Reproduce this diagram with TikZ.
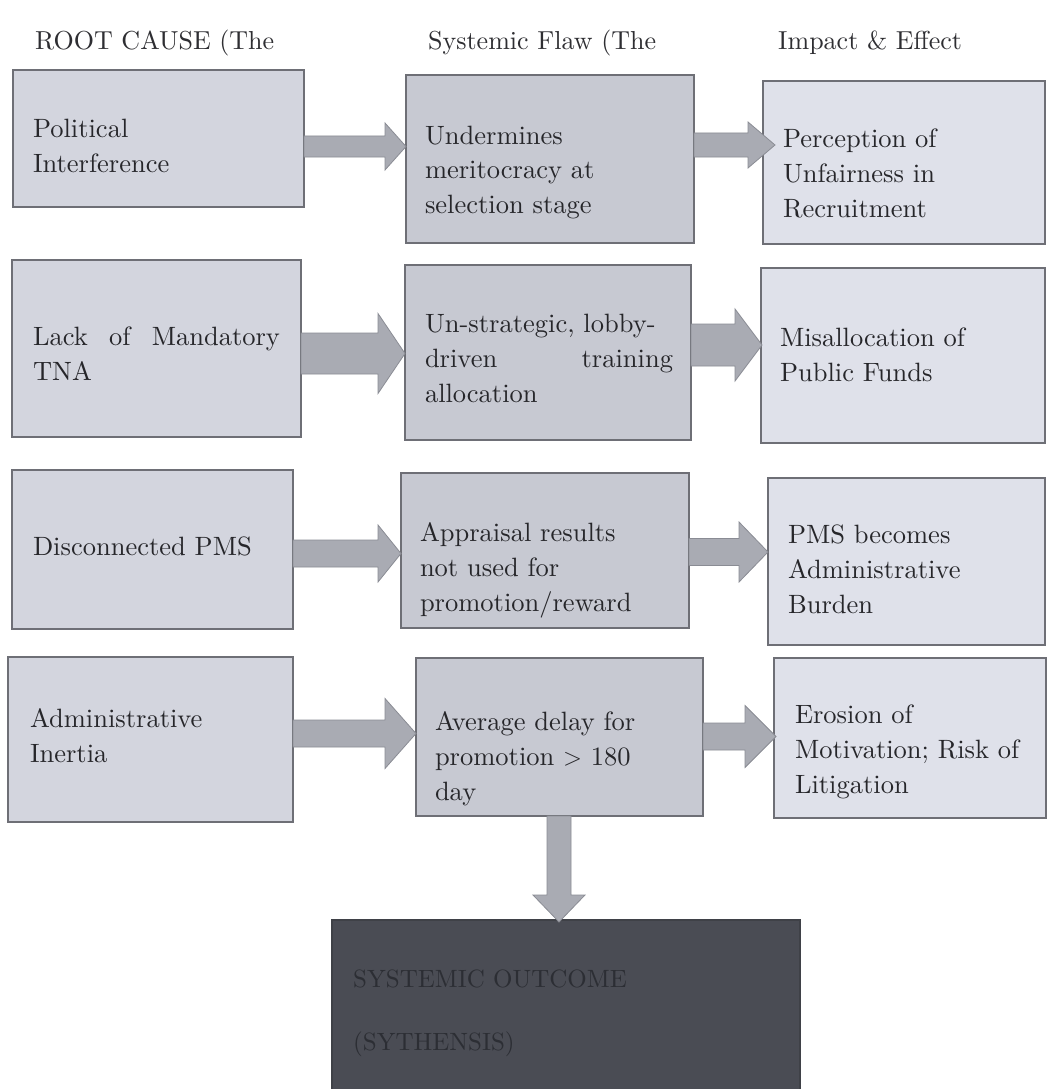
\documentclass[tikz,border=0pt]{standalone}
\usepackage{fontspec}
\setmainfont{lmroman10}[Extension=.otf, UprightFont=*-regular, BoldFont=*-bold, ItalicFont=*-italic]
\usetikzlibrary{calc}
\definecolor{ink}{HTML}{26262A}
\definecolor{headink}{HTML}{2E2E32}
\definecolor{boxline}{HTML}{6E6F76}
\definecolor{fillA}{HTML}{D3D5DE}
\definecolor{fillB}{HTML}{C7C9D2}
\definecolor{fillC}{HTML}{DFE1EA}
\definecolor{arrfill}{HTML}{A9ABB3}
\definecolor{arrline}{HTML}{8A8C94}
\definecolor{darkfill}{HTML}{4A4C54}
\definecolor{darkink}{HTML}{2C2E34}
\tikzset{
  box/.style={draw=boxline, line width=1.4pt, inner sep=0pt, outer sep=0pt, anchor=north west},
  bxa/.style={box, fill=fillA},
  bxb/.style={box, fill=fillB},
  bxc/.style={box, fill=fillC},
  txt/.style={anchor=base west, inner sep=0pt, outer sep=0pt, align=left, text width=#1,
    font=\fontsize{26.5}{35}\selectfont, text=ink},
  head/.style={anchor=base west, inner sep=0pt, font=\fontsize{26}{30}\selectfont, text=headink},
  fatarrow/.style={fill=arrfill, draw=arrline, line width=0.8pt, line join=miter},
}
% #1 from, #2 to, #3 tip offset, #4 centre y, #5 half shaft, #6 half head, #7 head length
\newcommand\harrow[7]{%
  \draw[fatarrow] let \p1=(#1), \p2=(#2) in
    (\x1,#4-#5) -- (\x2+#3-#7,#4-#5) -- (\x2+#3-#7,#4-#6) -- (\x2+#3,#4)
    -- (\x2+#3-#7,#4+#6) -- (\x2+#3-#7,#4+#5) -- (\x1,#4+#5) -- cycle;}
\begin{document}
\begin{tikzpicture}[x=1pt,y=-1pt]
\useasboundingbox (0,0) rectangle (1049,1089);
\fill[white] (0,0) rectangle (1049,1089);

% headers
\node[head] (h1) at (35,50) {ROOT CAUSE (The};
\node[head] (h2) at (428,50) {Systemic Flaw (The};
\node[head] (h3) at (778,50) {Impact \& Effect};

% row 1
\node[bxa, minimum width=291, minimum height=137] (a1) at (13,70) {};
\node[bxb, minimum width=288, minimum height=168] (b1) at (406,75) {};
\node[bxc, minimum width=282, minimum height=163] (c1) at (763,81) {};
% row 2
\node[bxa, minimum width=289, minimum height=177] (a2) at (12,260) {};
\node[bxb, minimum width=286, minimum height=175] (b2) at (405,265) {};
\node[bxc, minimum width=284, minimum height=175] (c2) at (761,268) {};
% row 3
\node[bxa, minimum width=281, minimum height=159] (a3) at (12,470) {};
\node[bxb, minimum width=288, minimum height=155] (b3) at (401,473) {};
\node[bxc, minimum width=277, minimum height=167] (c3) at (768,478) {};
% row 4
\node[bxa, minimum width=285, minimum height=165] (a4) at (8,657) {};
\node[bxb, minimum width=287, minimum height=158] (b4) at (416,658) {};
\node[bxc, minimum width=272, minimum height=160] (c4) at (774,658) {};
% outcome
\node[box, draw=darkfill!85!black, fill=darkfill, minimum width=468, minimum height=180] (out) at (332,920) {};

% texts
\node[txt=260] (a1t) at (33,138) {Political\\Interference};
\node[txt=255] (b1t) at (425,144) {Undermines\\meritocracy at\\selection stage};
\node[txt=255] (c1t) at (783,147) {Perception of\\Unfairness in\\Recruitment};

\node[txt=247] (a2t) at (33,345) {Lack\hfill of\hfill Mandatory\\TNA};
\node[txt=248] (b2t) at (425,332) {Un-strategic, lobby-\\driven\hfill training\\allocation};
\node[txt=255] (c2t) at (780,346) {Misallocation of\\Public Funds};

\node[txt=255] (a3t) at (33,555) {Disconnected PMS};
\node[txt=265] (b3t) at (420,541) {Appraisal results\\not used for\\promotion/reward};
\node[txt=250] (c3t) at (788,543) {PMS becomes\\Administrative\\Burden};

\node[txt=255] (a4t) at (30,727) {Administrative\\Inertia};
\node[txt=265] (b4t) at (435,730) {Average delay for\\promotion $>$ 180\\day};
\node[txt=252] (c4t) at (795,723) {Erosion of\\Motivation; Risk of\\Litigation};

\node[anchor=base west, inner sep=0pt, align=left, text width=420,
  font=\fontsize{25}{63}\selectfont, text=darkink]
  (outt) at (353,987) {SYSTEMIC OUTCOME\\(SYTHENSIS)};

% arrows
\harrow{a1.east}{b1.west}{0}{146.5}{10.5}{23.5}{21}
\harrow{b1.east}{c1.west}{12}{145}{12}{23}{27}
\harrow{a2.east}{b2.west}{0}{353.5}{20.5}{40}{27}
\harrow{b2.east}{c2.west}{1}{345}{21}{36}{27}
\harrow{a3.east}{b3.west}{0}{553.5}{13.5}{28.5}{23}
\harrow{b3.east}{c3.west}{0}{552}{13.5}{30}{29}
\harrow{a4.east}{b4.west}{0}{733.5}{13.5}{35}{31}
\harrow{b4.east}{c4.west}{2}{736.5}{13.5}{31}{31}
\draw[fatarrow] let \p1=(b4.south), \p2=(out.north) in
  (547,\y1) -- (547,\y2+25) -- (533,\y2+25) -- (559,\y2-2) -- (585,\y2+25)
  -- (571,\y2+25) -- (571,\y1) -- cycle;
\end{tikzpicture}
\end{document}
